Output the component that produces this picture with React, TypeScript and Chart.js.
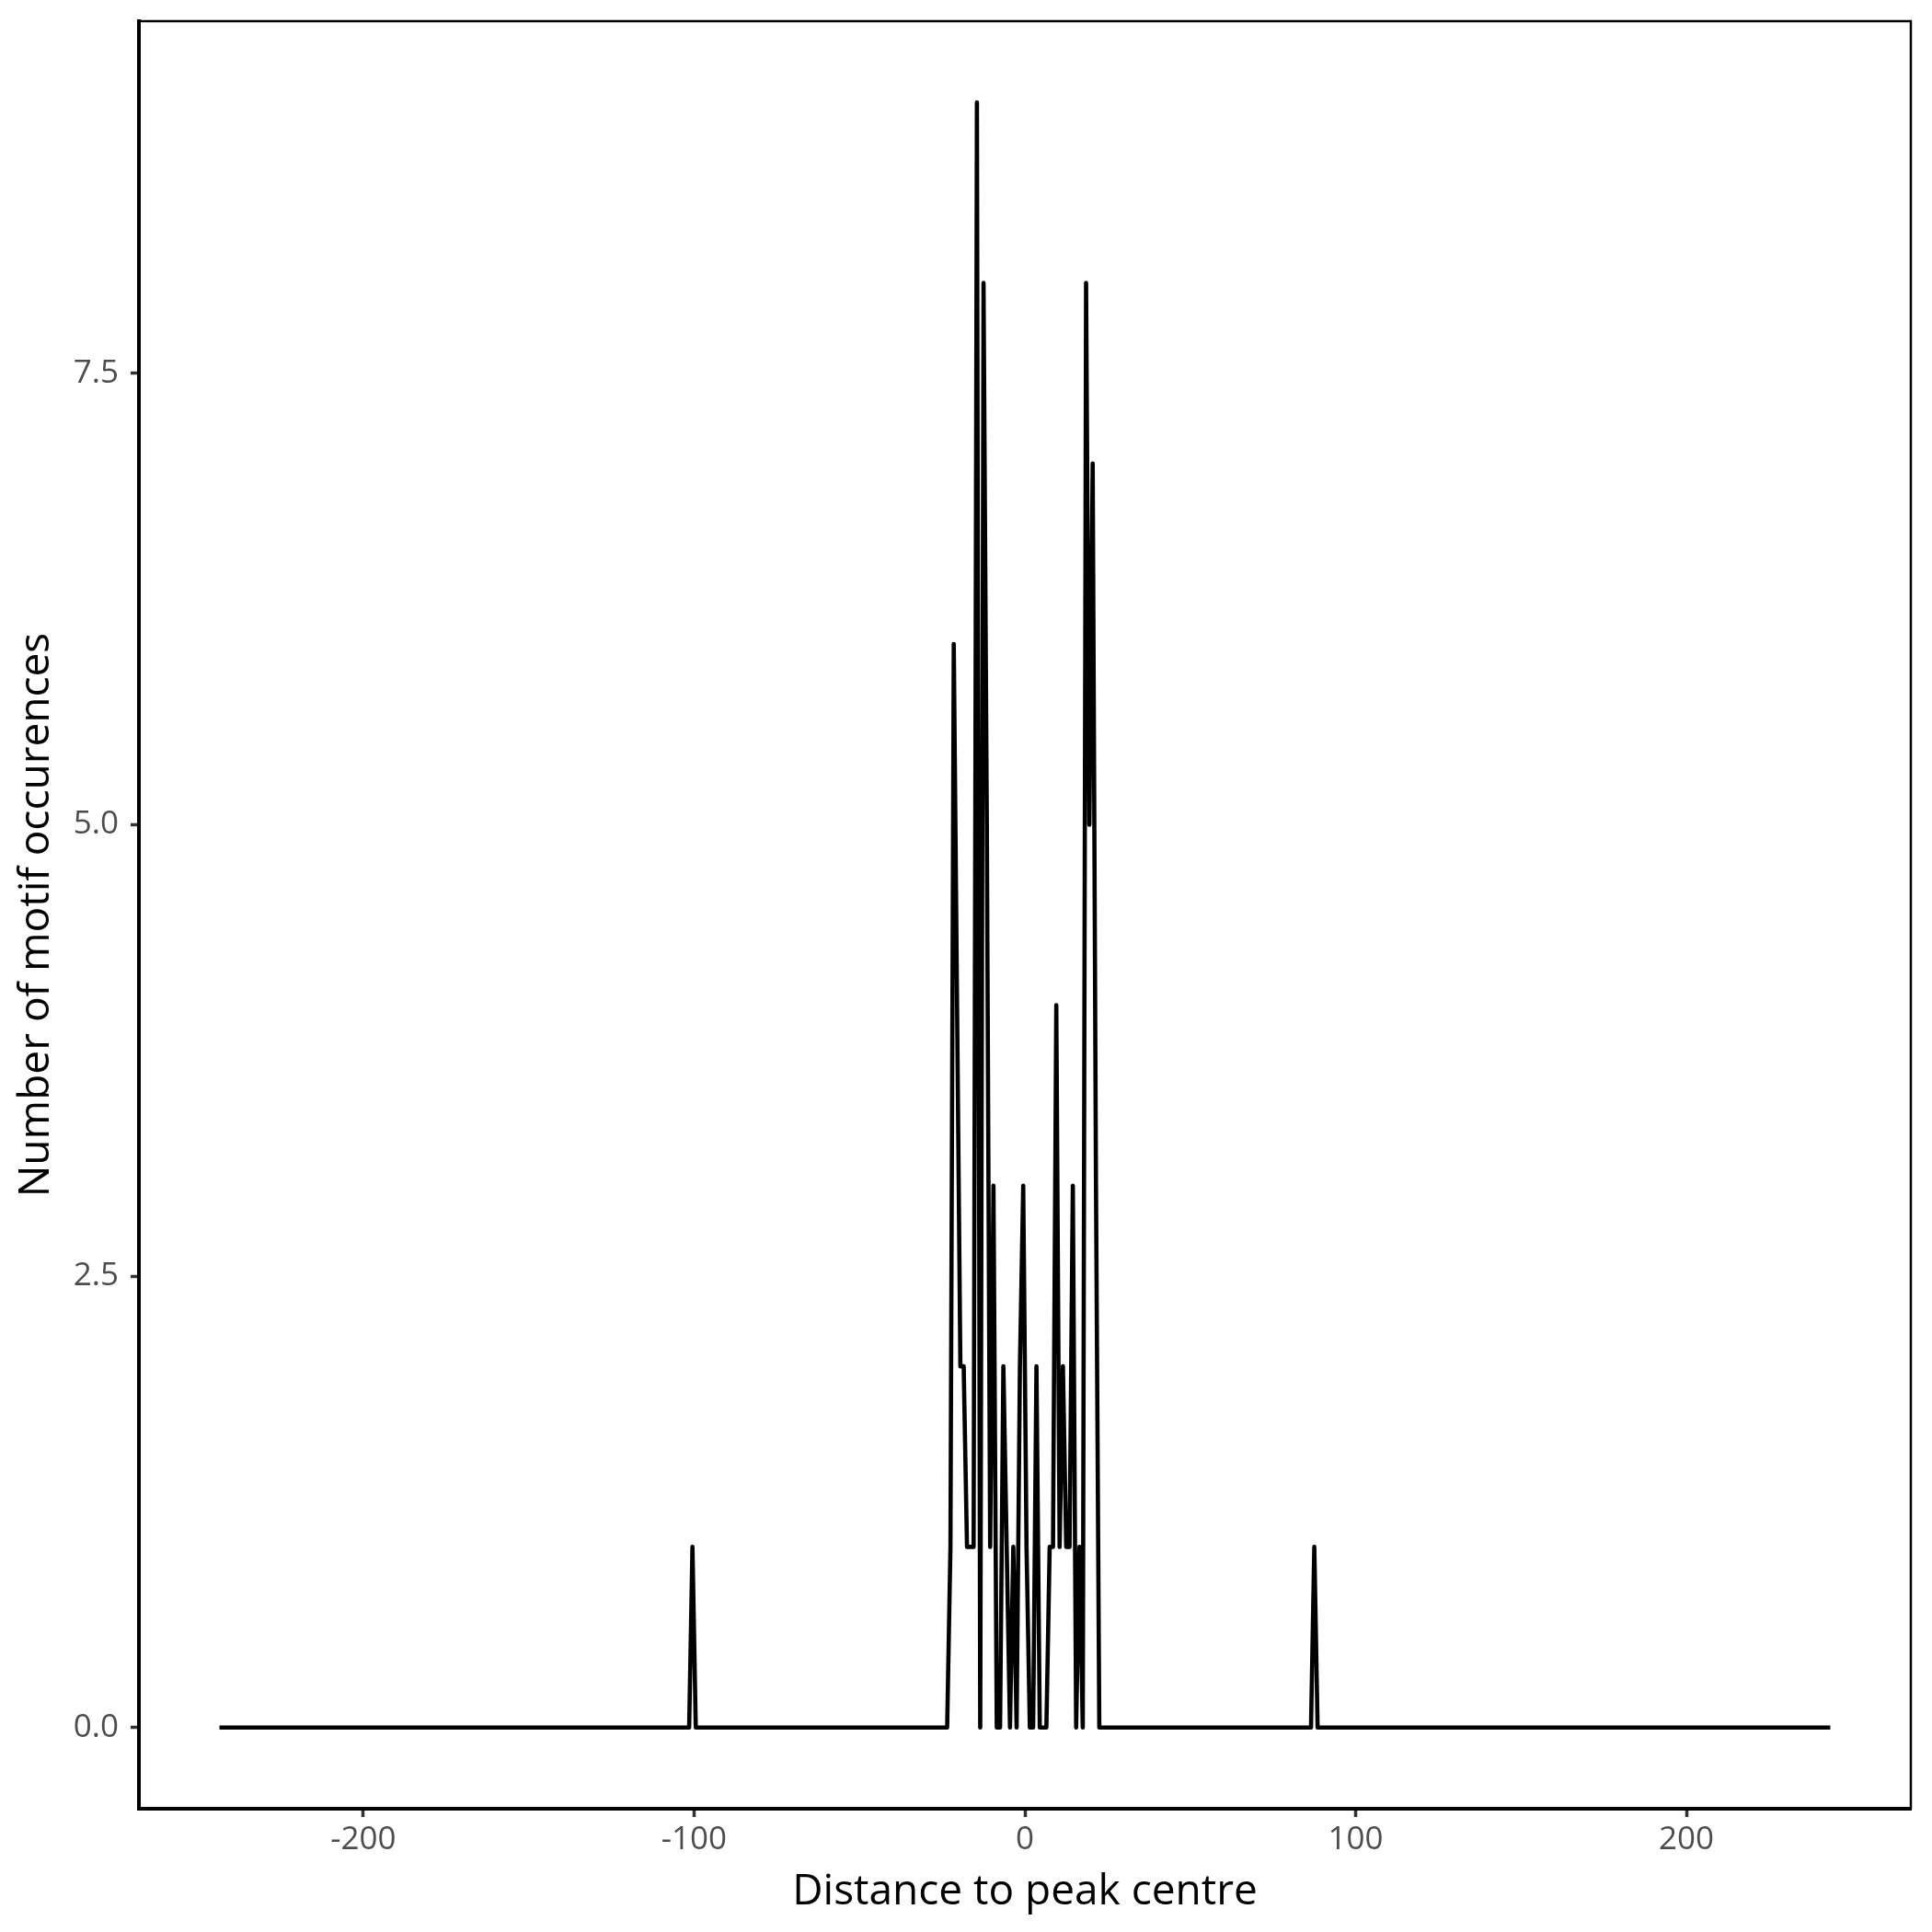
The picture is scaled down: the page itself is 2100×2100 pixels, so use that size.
import React, { useEffect, useRef } from "react";
import { Chart, registerables } from "chart.js";

Chart.register(...registerables);

// Distance to peak centre (bin centres) and motif occurrence counts
const positions = [
  -243.5, -101.5, -100.5, -99.5,
  -24.5, -23.5, -22.5, -21.5, -20.5, -19.5, -18.5, -17.5, -16.5, -15.5, -14.5,
  -13.5, -12.5, -11.5, -10.5, -9.5, -8.5, -7.5, -6.5, -5.5, -4.5, -3.5, -2.5,
  -1.5, -0.5, 0.5, 1.5, 2.5, 3.5, 4.5, 5.5, 6.5, 7.5, 8.5, 9.5, 10.5, 11.5,
  12.5, 13.5, 14.5, 15.5, 16.5, 17.5, 18.5, 19.5, 20.5, 21.5, 22.5,
  86.5, 87.5, 88.5, 243.5,
];
const counts = [
  0, 0, 1, 0,
  0, 0, 1, 6, 4, 2, 2, 1, 1, 1, 9,
  0, 8, 5, 1, 3, 0, 0, 2, 1, 0, 1, 0,
  2, 3, 1, 0, 0, 2, 0, 0, 0, 1, 1, 4, 1, 2,
  1, 1, 3, 0, 1, 0, 8, 5, 7, 3, 0,
  0, 1, 0, 0,
];

const xTicks = [-200, -100, 0, 100, 200];
const yTicks = [0, 2.5, 5, 7.5];
const xLabel = "Distance to peak centre";
const yLabel = "Number of motif occurences";

const FONT = "'Open Sans', 'Noto Sans', sans-serif";

const panelBorder = {
  id: "panelBorder",
  afterDraw(chart: any) {
    const { ctx, chartArea } = chart;
    ctx.save();
    ctx.strokeStyle = "#000000";
    ctx.lineWidth = 2.5;
    ctx.beginPath();
    ctx.moveTo(chartArea.left, chartArea.top);
    ctx.lineTo(chartArea.right, chartArea.top);
    ctx.lineTo(chartArea.right, chartArea.bottom);
    ctx.stroke();
    ctx.restore();
  },
};

export default function App() {
  const ref = useRef<HTMLCanvasElement | null>(null);

  useEffect(() => {
    if (!ref.current) return;
    const data = positions.map((x, i) => ({ x, y: counts[i] }));
    const chart = new Chart(ref.current, {
      type: "line",
      data: {
        datasets: [
          {
            data,
            borderColor: "#000000",
            borderWidth: 4.6,
            borderJoinStyle: "round",
            borderCapStyle: "butt",
            pointRadius: 0,
            tension: 0,
            fill: false,
          },
        ],
      },
      options: {
        animation: false,
        responsive: false,
        devicePixelRatio: 1,
        layout: { padding: { top: 23, right: 23, left: 0, bottom: 0 } },
        plugins: {
          legend: { display: false },
          tooltip: { enabled: false },
        },
        scales: {
          x: {
            type: "linear",
            min: -267.85,
            max: 267.85,
            afterBuildTicks: (s: any) => {
              s.ticks = xTicks.map((v) => ({ value: v }));
            },
            afterFit: (s: any) => {
              s.height = 134;
              s.paddingLeft = 0;
              s.paddingRight = 0;
            },
            ticks: {
              autoSkip: false,
              maxRotation: 0,
              padding: 4,
              color: "#4D4D4D",
              font: { family: FONT, size: 35 },
              callback: (v: any) => String(v),
            },
            grid: {
              display: true,
              drawOnChartArea: false,
              drawTicks: true,
              tickLength: 9,
              tickWidth: 3.5,
              tickColor: "#333333",
            },
            border: { display: true, color: "#000000", width: 4 },
            title: {
              display: true,
              text: xLabel,
              color: "#000000",
              font: { family: FONT, size: 46 },
              padding: { top: 0, bottom: 16 },
            },
          },
          y: {
            type: "linear",
            min: -0.45,
            max: 9.45,
            afterBuildTicks: (s: any) => {
              s.ticks = yTicks.map((v) => ({ value: v }));
            },
            afterFit: (s: any) => {
              s.width = 151;
              s.paddingTop = 0;
              s.paddingBottom = 0;
            },
            ticks: {
              autoSkip: false,
              padding: 13,
              color: "#4D4D4D",
              font: { family: FONT, size: 35 },
              callback: (v: any) => Number(v).toFixed(1),
            },
            grid: {
              display: true,
              drawOnChartArea: false,
              drawTicks: true,
              tickLength: 9,
              tickWidth: 3.5,
              tickColor: "#333333",
            },
            border: { display: true, color: "#000000", width: 4 },
            title: {
              display: true,
              text: yLabel,
              color: "#000000",
              font: { family: FONT, size: 46 },
              padding: { top: 12, bottom: 0 },
            },
          },
        },
      },
      plugins: [panelBorder],
    });
    return () => chart.destroy();
  }, []);

  return (
    <div style={{ position: "absolute", left: 0, top: 0, width: 2100, height: 2100, background: "#ffffff" }}>
      <canvas ref={ref} width={2100} height={2100} style={{ width: 2100, height: 2100, display: "block" }} />
    </div>
  );
}
